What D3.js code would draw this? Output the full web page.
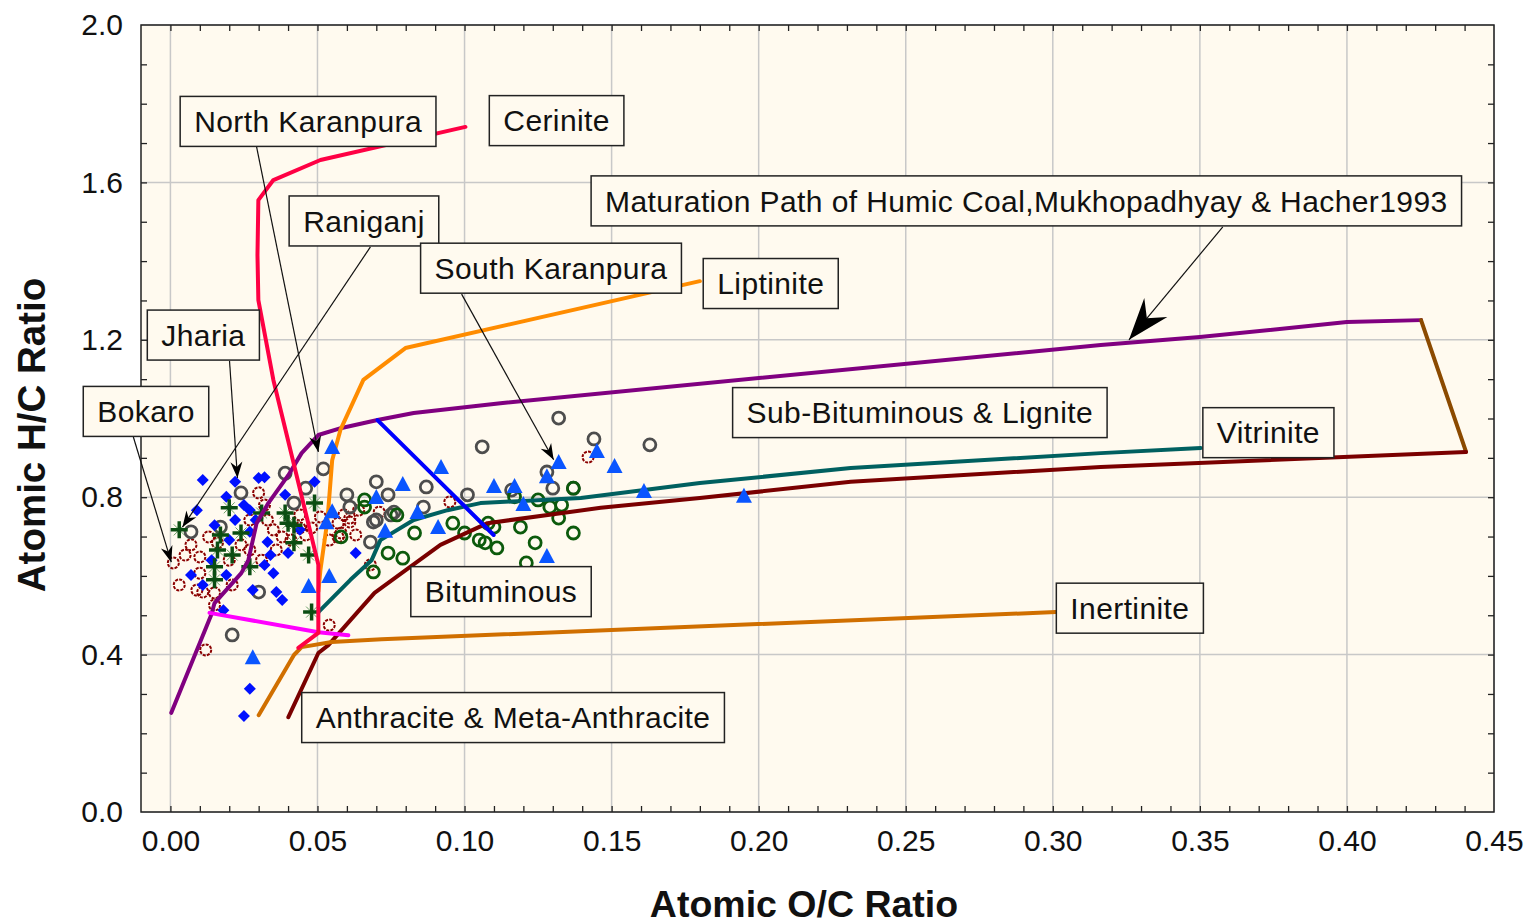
<!DOCTYPE html>
<html><head><meta charset="utf-8">
<script src="https://cdn.jsdelivr.net/npm/d3@7"></script>
<style>
body{margin:0;background:#fff;}
text{font-family:"Liberation Sans",Arial,sans-serif;}
</style>
</head><body>
<svg id="chart" width="1531" height="924"></svg>
<script>
// ---------- tick labels ----------
const xTickValues = [0, 0.05, 0.10, 0.15, 0.20, 0.25, 0.30, 0.35, 0.40, 0.45];
const yTickValues = [0.0, 0.4, 0.8, 1.2, 1.6, 2.0];
const xTitle = "Atomic O/C Ratio";
const yTitle = "Atomic H/C Ratio";

// ---------- scatter series (O/C, H/C) ----------
const blueDiamonds = [[0.011,0.844],[0.022,0.839],[0.030,0.849],[0.032,0.851],[0.019,0.801],[0.025,0.780],[0.027,0.767],[0.039,0.806],[0.049,0.839],[0.022,0.742],[0.033,0.686],[0.027,0.712],[0.040,0.658],[0.007,0.602],[0.019,0.602],[0.063,0.658],[0.027,0.313],[0.025,0.244],[0.011,0.577],[0.018,0.513],[0.028,0.564],[0.032,0.628],[0.036,0.559],[0.038,0.539],[0.035,0.607],[0.009,0.767],[0.015,0.729],[0.020,0.691],[0.034,0.653],[0.044,0.717],[0.014,0.640],[0.029,0.742]];
const maroonCircles = [[0.001,0.633],[0.030,0.811],[0.010,0.648],[0.013,0.699],[0.016,0.684],[0.035,0.717],[0.038,0.699],[0.033,0.742],[0.044,0.722],[0.051,0.750],[0.057,0.734],[0.061,0.747],[0.058,0.709],[0.054,0.691],[0.010,0.607],[0.027,0.666],[0.011,0.559],[0.015,0.557],[0.012,0.412],[0.054,0.475],[0.095,0.788],[0.068,0.628],[0.071,0.762],[0.064,0.767],[0.059,0.755],[0.061,0.737],[0.057,0.699],[0.063,0.704],[0.142,0.902],[0.007,0.679],[0.020,0.640],[0.024,0.679],[0.031,0.640],[0.036,0.666],[0.041,0.691],[0.046,0.704],[0.015,0.526],[0.009,0.564],[0.005,0.653],[0.027,0.742],[0.032,0.780],[0.044,0.755],[0.048,0.722],[0.021,0.577],[0.003,0.577]];
const grayCircles = [[0.052,0.872],[0.039,0.861],[0.046,0.823],[0.042,0.785],[0.060,0.806],[0.070,0.839],[0.074,0.806],[0.087,0.826],[0.101,0.806],[0.106,0.928],[0.086,0.775],[0.068,0.686],[0.070,0.742],[0.075,0.755],[0.061,0.775],[0.132,1.001],[0.144,0.948],[0.163,0.933],[0.128,0.864],[0.116,0.818],[0.130,0.823],[0.137,0.823],[0.024,0.811],[0.007,0.712],[0.017,0.724],[0.021,0.450],[0.030,0.559],[0.069,0.737],[0.076,0.762]];
const greenCircles = [[0.066,0.793],[0.077,0.755],[0.074,0.658],[0.079,0.645],[0.083,0.709],[0.096,0.734],[0.100,0.709],[0.105,0.691],[0.110,0.724],[0.117,0.801],[0.125,0.793],[0.133,0.780],[0.129,0.775],[0.132,0.747],[0.119,0.724],[0.124,0.684],[0.137,0.709],[0.121,0.633],[0.108,0.734],[0.111,0.671],[0.107,0.684],[0.137,0.823],[0.069,0.610],[0.066,0.775],[0.058,0.699]];
const blueTriangles = [[0.055,0.925],[0.070,0.798],[0.079,0.831],[0.092,0.874],[0.110,0.826],[0.084,0.760],[0.091,0.722],[0.073,0.712],[0.055,0.762],[0.053,0.734],[0.054,0.597],[0.047,0.572],[0.028,0.391],[0.132,0.887],[0.145,0.915],[0.151,0.877],[0.117,0.826],[0.128,0.851],[0.161,0.813],[0.120,0.780],[0.128,0.648],[0.195,0.801]];
const greenCrosses = [[0.003,0.717],[0.020,0.773],[0.031,0.760],[0.039,0.760],[0.040,0.734],[0.049,0.785],[0.017,0.704],[0.024,0.709],[0.016,0.666],[0.021,0.653],[0.042,0.684],[0.047,0.653],[0.015,0.623],[0.027,0.623],[0.015,0.590],[0.048,0.508],[0.042,0.729]];

// ---------- maturation / maceral paths ----------
const cerinitePath = [[0.0435,0.417],[0.0503,0.455],[0.0503,0.628],[0.035,1.098],[0.0299,1.301],[0.0296,1.415],[0.0299,1.555],[0.035,1.606],[0.051,1.657],[0.1003,1.741]];
const liptinitePath = [[0.0503,0.56],[0.051,0.615],[0.0534,0.742],[0.055,0.894],[0.0578,0.971],[0.0656,1.098],[0.0799,1.179],[0.180,1.349]];
const inertinitePath = [[0.030,0.246],[0.042,0.399],[0.0446,0.419],[0.0548,0.432],[0.0718,0.439],[0.301,0.508]];
const humicPath = [[0.0003,0.252],[0.0139,0.501],[0.015,0.531],[0.0241,0.607],[0.0265,0.640],[0.0293,0.734],[0.0333,0.785],[0.0401,0.856],[0.0446,0.912],[0.0503,0.958],[0.0582,0.976],[0.0704,0.996],[0.0827,1.014],[0.1122,1.039],[0.3163,1.187],[0.350,1.207],[0.400,1.245],[0.4252,1.250]];
const closingPath = [[0.4252,1.250],[0.4405,0.915]];
const vitrinitePath = [[0.0503,0.508],[0.0612,0.590],[0.0684,0.640],[0.0714,0.691],[0.0827,0.742],[0.0942,0.767],[0.1054,0.785],[0.1395,0.798],[0.180,0.836],[0.2313,0.874],[0.3163,0.912],[0.3503,0.925]];
const lowerPath = [[0.0401,0.241],[0.0503,0.404],[0.0537,0.424],[0.0694,0.557],[0.0786,0.607],[0.0918,0.679],[0.1078,0.734],[0.1463,0.773],[0.180,0.798],[0.2313,0.839],[0.3163,0.877],[0.4405,0.915]];
const blueTie = [[0.0704,0.996],[0.1099,0.704]];
const magentaTie = [[0.0133,0.506],[0.0503,0.457],[0.0605,0.449]];

// ---------- annotations ----------
const labelTexts = ["North Karanpura","Cerinite","Raniganj","Jharia","Bokaro","South Karanpura","Liptinite","Maturation Path of Humic Coal,Mukhopadhyay & Hacher1993","Sub-Bituminous & Lignite","Vitrinite","Bituminous","Inertinite","Anthracite & Meta-Anthracite"];
const labelAnchors = [[0.0468,1.755],[0.1313,1.757],[0.0658,1.502],[0.0112,1.212],[-0.0083,1.018],[0.1294,1.382],[0.2041,1.343],[0.291,1.553],[0.2548,1.015],[0.3733,0.964],[0.1124,0.560],[0.3262,0.518],[0.1165,0.240]];
const leaderFrom = [[0.0293,1.690],[0.068,1.436],[0.0201,1.146],[-0.0126,0.953],[0.099,1.316],[0.3578,1.487]];
const leaderTo = [[0.0503,0.915],[0.0041,0.724],[0.0228,0.849],[0.0003,0.635],[0.1303,0.895],[0.3259,1.200]];
const leaderBig = [false,false,false,false,false,true];

// ---------- drawing ----------
const svg = d3.select("#chart");
const L = 141, R = 1494, T = 25, B = 812;
const x = d3.scaleLinear().domain([-0.01, 0.45]).range([L, R]);
const y = d3.scaleLinear().domain([0, 2]).range([B, T]);
const bg = "#fffaef";

svg.append("rect").attr("x", L).attr("y", T).attr("width", R - L).attr("height", B - T).attr("fill", bg);

// grid
const grid = svg.append("g").attr("stroke", "#c8c8c8").attr("stroke-width", 1.5);
xTickValues.forEach(v => grid.append("line").attr("x1", x(v)).attr("x2", x(v)).attr("y1", T).attr("y2", B));
yTickValues.forEach(v => grid.append("line").attr("x1", L).attr("x2", R).attr("y1", y(v)).attr("y2", y(v)));

// minor inward ticks on all sides
const xMinor = d3.range(0, 45).map(i => i / 100);
const yMinor = d3.range(1, 20).map(i => i / 10);
function styleAxis(g) { g.select(".domain").remove(); g.selectAll("line").attr("stroke", "#222").attr("stroke-width", 1.3); g.selectAll("text").remove(); }
svg.append("g").attr("transform", `translate(0,${B})`).call(d3.axisBottom(x).tickValues(xMinor).tickSize(-6)).call(styleAxis);
svg.append("g").attr("transform", `translate(0,${T})`).call(d3.axisTop(x).tickValues(xMinor).tickSize(-6)).call(styleAxis);
svg.append("g").attr("transform", `translate(${L},0)`).call(d3.axisLeft(y).tickValues(yMinor).tickSize(-6)).call(styleAxis);
svg.append("g").attr("transform", `translate(${R},0)`).call(d3.axisRight(y).tickValues(yMinor).tickSize(-6)).call(styleAxis);

// labels
const xAx = svg.append("g").attr("transform", `translate(0,${B})`)
  .call(d3.axisBottom(x).tickValues(xTickValues).tickFormat(d3.format(".2f")).tickSize(0).tickPadding(18));
xAx.select(".domain").remove();
xAx.selectAll("text").attr("font-size", 30).attr("font-family", "Liberation Sans, Arial, sans-serif").attr("fill", "#111");
const yAx = svg.append("g").attr("transform", `translate(${L},0)`)
  .call(d3.axisLeft(y).tickValues(yTickValues).tickFormat(d3.format(".1f")).tickSize(0).tickPadding(18));
yAx.select(".domain").remove();
yAx.selectAll("text").attr("font-size", 30).attr("font-family", "Liberation Sans, Arial, sans-serif").attr("fill", "#111");

svg.append("text").attr("x", 804).attr("y", 917).attr("text-anchor", "middle")
  .attr("font-size", 37.5).attr("font-weight", "bold").attr("fill", "#111").text(xTitle);
svg.append("text").attr("transform", "translate(45,435) rotate(-90)").attr("text-anchor", "middle")
  .attr("font-size", 38.5).attr("font-weight", "bold").attr("fill", "#111").text(yTitle);

// markers (below lines)
const P = svg.append("g");
P.selectAll(".mc").data(maroonCircles).join("circle").attr("cx", d => x(d[0])).attr("cy", d => y(d[1])).attr("r", 5.5)
  .attr("fill", "none").attr("stroke", "#8b0000").attr("stroke-width", 2).attr("stroke-dasharray", "3,1.2");
P.selectAll(".gc").data(grayCircles).join("circle").attr("cx", d => x(d[0])).attr("cy", d => y(d[1])).attr("r", 6)
  .attr("fill", "none").attr("stroke", "#4d4d4d").attr("stroke-width", 2.8);
P.selectAll(".grc").data(greenCircles).join("circle").attr("cx", d => x(d[0])).attr("cy", d => y(d[1])).attr("r", 6)
  .attr("fill", "none").attr("stroke", "#0c5a0c").attr("stroke-width", 2.8);
P.selectAll(".bd").data(blueDiamonds).join("path").attr("transform", d => `translate(${x(d[0])},${y(d[1])})`)
  .attr("d", "M0,-6L6,0L0,6L-6,0Z").attr("fill", "#0010ff");
const cr = P.selectAll(".cr").data(greenCrosses).join("g").attr("transform", d => `translate(${x(d[0])},${y(d[1])})`);
cr.append("path").attr("d", "M-5.5,-5.5L5.5,5.5M-5.5,5.5L5.5,-5.5").attr("stroke", "#2f7a2f").attr("stroke-width", 1).attr("opacity", 0.7);
cr.append("path").attr("d", "M-8.5,0H8.5M0,-8.5V8.5").attr("stroke", "#0b4d12").attr("stroke-width", 3.5);

// lines
const line = d3.line().x(d => x(d[0])).y(d => y(d[1]));
const paths = [
  [humicPath, "#800080"], [closingPath, "#8b4a00"], [lowerPath, "#7a0000"], [vitrinitePath, "#006060"],
  [inertinitePath, "#d06f00"], [liptinitePath, "#ff8c00"], [blueTie, "#0000ff"], [magentaTie, "#ff00ff"],
  [cerinitePath, "#ff0044"]
];
paths.forEach(([data, col]) => svg.append("path").attr("d", line(data)).attr("fill", "none")
  .attr("stroke", col).attr("stroke-width", 4).attr("stroke-linejoin", "round").attr("stroke-linecap", "round"));

// triangles (above lines)
svg.append("g").selectAll("path").data(blueTriangles).join("path")
  .attr("transform", d => `translate(${x(d[0])},${y(d[1])})`)
  .attr("d", "M0,-9L8,6L-8,6Z").attr("fill", "#0a55ff");

// frame
svg.append("rect").attr("x", L).attr("y", T).attr("width", R - L).attr("height", B - T)
  .attr("fill", "none").attr("stroke", "#222").attr("stroke-width", 1.5);

// leaders
leaderFrom.forEach((f, i) => {
  const x1 = x(f[0]), y1 = y(f[1]), x2 = x(leaderTo[i][0]), y2 = y(leaderTo[i][1]);
  svg.append("line").attr("x1", x1).attr("y1", y1).attr("x2", x2).attr("y2", y2).attr("stroke", "#111").attr("stroke-width", 1.2);
  const a = Math.atan2(y2 - y1, x2 - x1) * 180 / Math.PI;
  const head = leaderBig[i] ? "M0,0L-42,-15L-28,0L-42,15Z" : "M0,0L-16,-6L-11,0L-16,6Z";
  svg.append("path").attr("d", head).attr("fill", "#000").attr("transform", `translate(${x2},${y2}) rotate(${a})`);
});

// label boxes
labelTexts.forEach((t, i) => {
  const g = svg.append("g").attr("transform", `translate(${x(labelAnchors[i][0])},${y(labelAnchors[i][1])})`);
  const r = g.append("rect").attr("fill", bg).attr("stroke", "#222").attr("stroke-width", 1.5);
  const tx = g.append("text").attr("text-anchor", "middle").attr("dy", "0.36em").attr("font-size", 30)
    .attr("letter-spacing", 0.4).attr("fill", "#111").text(t);
  const w = tx.node().getComputedTextLength() + 28;
  r.attr("x", -w / 2).attr("y", -25).attr("width", w).attr("height", 50);
});
</script>
</body></html>
